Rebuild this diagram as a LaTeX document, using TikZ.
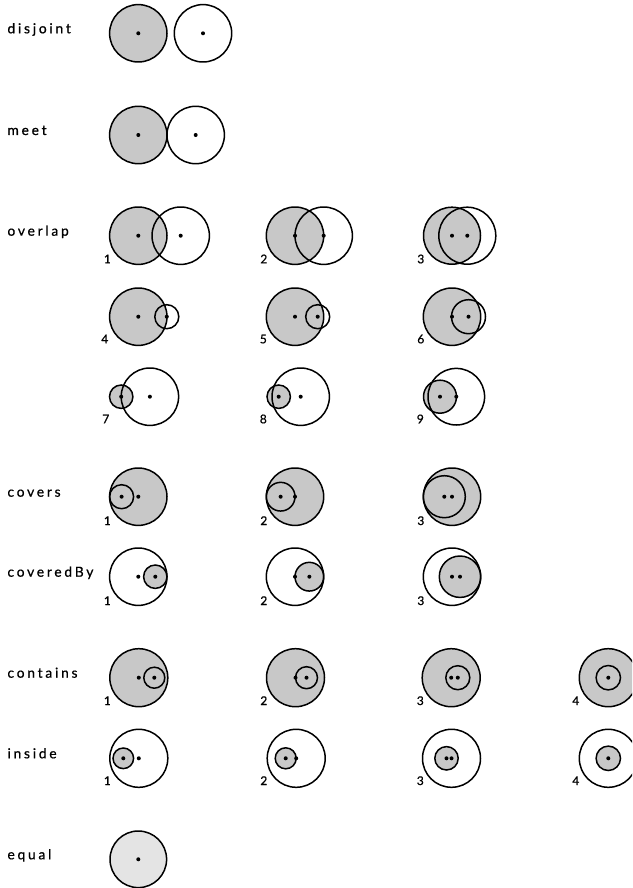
\documentclass[tikz,border=0pt]{standalone}
\usepackage{fontspec}
\newfontfamily\lblfont[LetterSpace=20,FakeBold=0.7]{Lato}
\newfontfamily\numfont[FakeBold=0.7]{Lato}
\definecolor{gA}{RGB}{200,200,200}
\definecolor{gE}{RGB}{228,228,228}
\tikzset{
  regA/.style={fill=gA, draw=black, line width=1.5pt},
  regE/.style={fill=gE, draw=black, line width=1.5pt},
  regB/.style={draw=black, line width=1.5pt},
  lbl/.style={anchor=base west, inner sep=0pt, font=\lblfont\fontsize{13.8}{16}\selectfont},
  num/.style={anchor=base east, inner sep=0pt, font=\numfont\fontsize{12}{14}\selectfont},
}
% #1 A x, #2 A r, #3 B x, #4 B r, #5 y
\newcommand\pairfig[5]{%
  \draw[regA] (#1,#5) circle (#2pt);
  \draw[regB] (#3,#5) circle (#4pt);
  \fill (#1,#5) circle (2pt);
  \fill (#3,#5) circle (2pt);
}
\begin{document}
\begin{tikzpicture}[x=1pt,y=-1pt]
\useasboundingbox (0,0) rectangle (632,888);
\clip (0,0) rectangle (632,888);

% row labels
\node[lbl] (ldisjoint) at (7.3,33.3) {disjoint};
\node[lbl] (lmeet) at (7.3,135) {meet};
\node[lbl] (loverlap) at (7.3,235.7) {overlap};
\node[lbl] (lcovers) at (7.3,496.7) {covers};
\node[lbl] (lcoveredby) at (7.3,576.7) {coveredBy};
\node[lbl] (lcontains) at (7.3,677.7) {contains};
\node[lbl] (linside) at (7.3,758.3) {inside};
\node[lbl] (lequal) at (7.3,859.3) {equal};

% disjoint
\pairfig{138.3}{28.7}{203}{28.7}{33.3}
% meet
\pairfig{138.3}{28.7}{195.7}{28.7}{135}

% overlap row 1
\pairfig{138.3}{28.7}{180.7}{28.7}{235.7}
\pairfig{295}{28.7}{323.7}{28.7}{235.7}
\pairfig{452}{28.5}{467.3}{28.5}{235.7}
% overlap row 2
\pairfig{138.3}{28.7}{166.8}{12}{316.7}
\pairfig{295}{28.7}{317.7}{12}{316.7}
\pairfig{452}{28.7}{468.5}{17}{316.7}
% overlap row 3
\pairfig{121.2}{11.7}{149.9}{28.7}{396.7}
\pairfig{278.7}{11.7}{300.7}{28.7}{396.7}
\pairfig{440}{16.5}{456.3}{28.3}{396.7}

% covers
\pairfig{138.3}{28.7}{121.6}{12}{496.7}
\pairfig{295}{28.7}{280.65}{14.35}{496.7}
\pairfig{452}{28.7}{444.3}{21}{496.7}
% coveredBy
\pairfig{155.3}{11.7}{138.3}{28.7}{576.7}
\pairfig{309.35}{14.35}{295}{28.7}{576.7}
\pairfig{460}{20.7}{452}{28.7}{576.7}

% contains
\pairfig{138.8}{29}{154.3}{10.5}{677.7}
\pairfig{295.5}{29}{306.5}{11}{677.7}
\pairfig{451.2}{29}{457.8}{12}{677.7}
\draw[regA] (608.3,677.7) circle (29pt);
\draw[regB] (608.3,677.7) circle (12.2pt);
\fill (608.3,677.7) circle (2pt);
% inside
\pairfig{123.3}{10.3}{138.8}{29}{758.3}
\pairfig{285.7}{10.5}{296.2}{29}{758.3}
\pairfig{446.5}{11.7}{451.5}{29}{758.3}
\draw[regB] (608.3,758.3) circle (29pt);
\draw[regA] (608.3,758.3) circle (12.2pt);
\fill (608.3,758.3) circle (2pt);

% equal
\draw[regE] (138.3,859.3) circle (28.3pt);
\fill (138.3,859.3) circle (2pt);

% numbers
\node[num] (o1) at (111,263.3) {1};
\node[num] (o2) at (267.5,263.3) {2};
\node[num] (o3) at (424.5,263.3) {3};
\node[num] (o4) at (108.5,343.3) {4};
\node[num] (o5) at (267,343.3) {5};
\node[num] (o6) at (424.5,343.3) {6};
\node[num] (o7) at (109.5,423.3) {7};
\node[num] (o8) at (267,423.3) {8};
\node[num] (o9) at (424,423.3) {9};
\node[num] (cv1) at (111,525) {1};
\node[num] (cv2) at (267.5,525) {2};
\node[num] (cv3) at (424.5,525) {3};
\node[num] (cb1) at (111,605) {1};
\node[num] (cb2) at (267.5,605) {2};
\node[num] (cb3) at (424.5,605) {3};
\node[num] (ct1) at (111,705) {1};
\node[num] (ct2) at (267.5,705) {2};
\node[num] (ct3) at (424,705) {3};
\node[num] (ct4) at (579.5,705) {4};
\node[num] (in1) at (111,785) {1};
\node[num] (in2) at (267.5,785) {2};
\node[num] (in3) at (424,785) {3};
\node[num] (in4) at (579.5,785) {4};
\end{tikzpicture}
\end{document}
